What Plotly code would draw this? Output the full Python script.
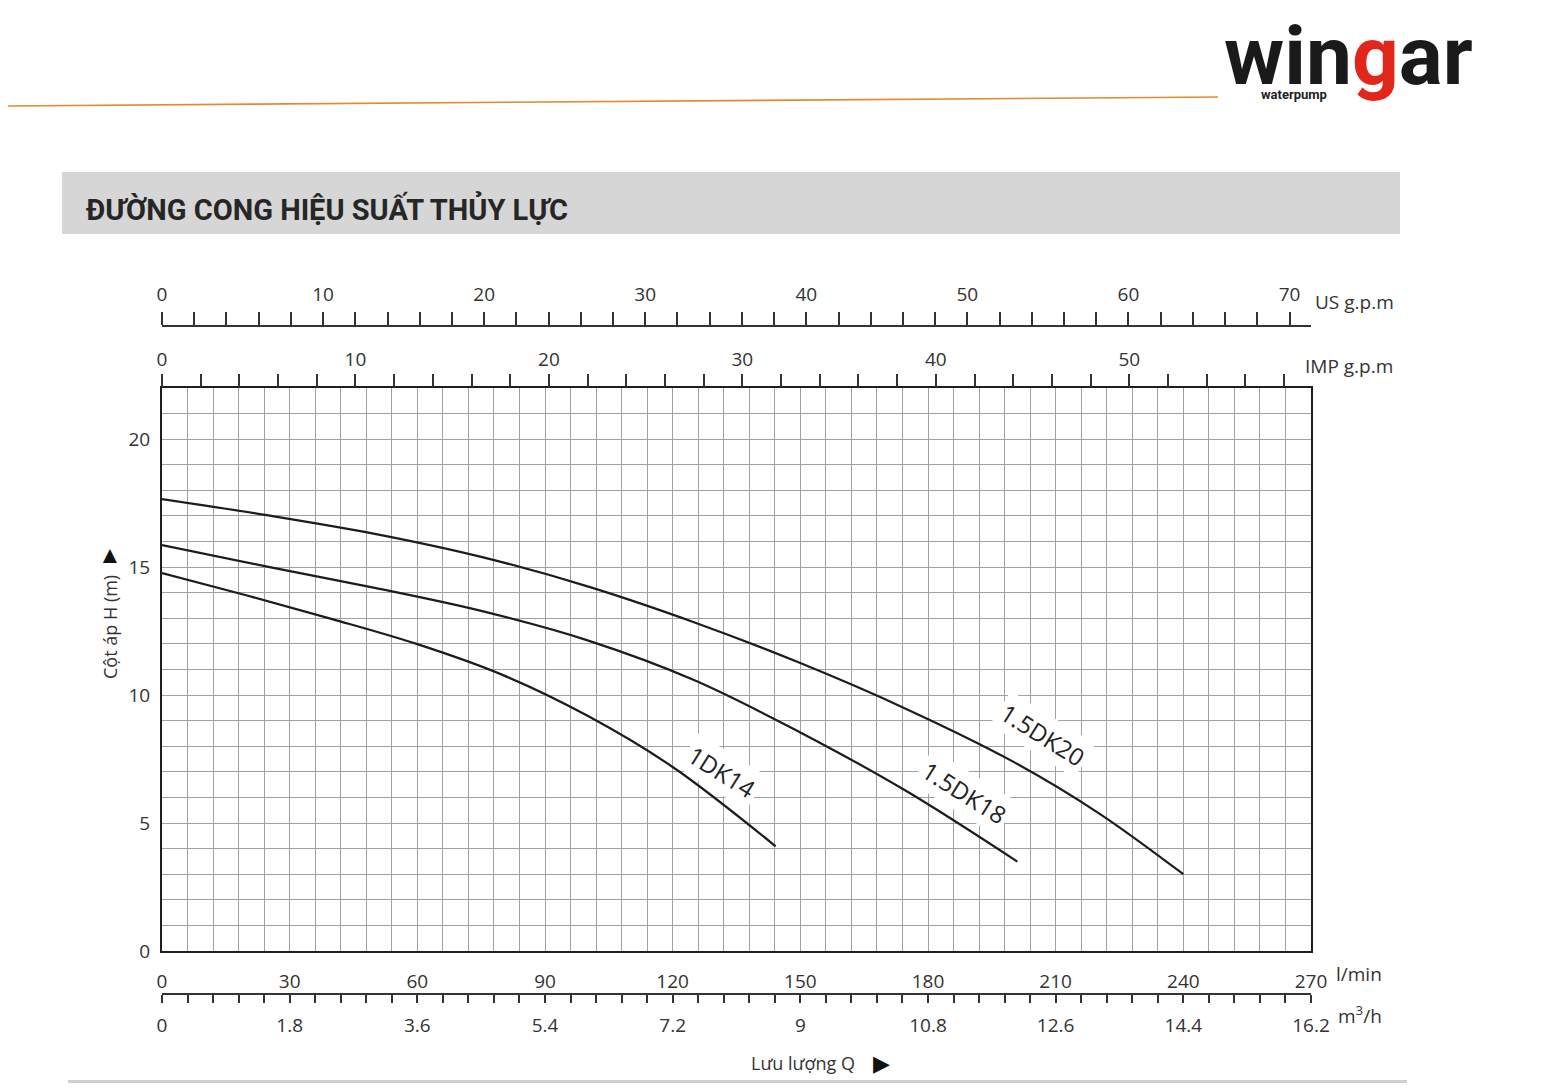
import plotly.graph_objects as go

# ---------------- data ----------------
q_1dk14 = [0, 20, 40, 60, 80, 100, 120, 144.2]
h_1dk14 = [14.77, 13.89, 12.97, 11.99, 10.79, 9.19, 7.19, 4.09]

q_15dk18 = [0, 25, 50, 75, 100, 125, 150, 175, 201]
h_15dk18 = [15.86, 15.01, 14.19, 13.29, 12.14, 10.59, 8.54, 6.24, 3.49]

q_15dk20 = [0, 25, 50, 75, 100, 125, 150, 175, 200, 220, 240]
h_15dk20 = [17.66, 17.02, 16.30, 15.40, 14.25, 12.85, 11.25, 9.45, 7.40, 5.40, 3.0]

series_names = ["1DK14", "1.5DK18", "1.5DK20"]
label_q = [131.5, 188.6, 206.9]
label_h = [7.0, 6.2, 8.45]

lmin_ticks = [0, 30, 60, 90, 120, 150, 180, 210, 240, 270]
m3h_labels = ["0", "1.8", "3.6", "5.4", "7.2", "9", "10.8", "12.6", "14.4", "16.2"]
us_ticks = [0, 10, 20, 30, 40, 50, 60, 70]
imp_ticks = [0, 10, 20, 30, 40, 50]
h_ticks = [0, 5, 10, 15, 20]

LMIN_PER_USGPM = 3.785
LMIN_PER_IMPGPM = 4.546

# ---------------- layout geometry ----------------
# page has an 8px body margin; figure is placed at (8, 8)
OFF = 8
W, H = 1544 - 2 * OFF, 1091 - 2 * OFF
ML, MR, MT, MB = 154, 225, 252, 32
PW, PH = W - ML - MR, H - MT - MB


def px(X):  # page pixel -> paper x
    return (X - OFF - ML) / PW


def py(Y):  # page pixel -> paper y
    return (H - MB - (Y - OFF)) / PH


FONT = "Open Sans, Noto Sans, sans-serif"
TXT = "#333333"
GRID = "#a0a0a0"

fig = go.Figure()

for q, h, name in [(q_1dk14, h_1dk14, series_names[0]),
                   (q_15dk18, h_15dk18, series_names[1]),
                   (q_15dk20, h_15dk20, series_names[2])]:
    fig.add_trace(go.Scatter(x=q, y=h, mode="lines", name=name,
                             line=dict(color="#1c1c1c", width=2.2, shape="spline", smoothing=1.0),
                             showlegend=False, hoverinfo="x+y+name"))

# invisible traces so that every extra axis is drawn
for ax in ["x2", "x3", "x4", "x5"]:
    fig.add_trace(go.Scatter(x=[None], y=[None], xaxis=ax, yaxis="y",
                             showlegend=False, hoverinfo="skip"))

main_dom_bottom = py(951)
main_dom_top = py(388)

tickfont = dict(family=FONT, size=19, color=TXT)

fig.update_layout(
    width=W, height=H, autosize=False,
    margin=dict(l=ML, r=MR, t=MT, b=MB),
    paper_bgcolor="white", plot_bgcolor="white",
    xaxis=dict(range=[0, 270], tickmode="linear", tick0=0, dtick=6,
               showticklabels=False, ticks="", showgrid=True, gridcolor=GRID, gridwidth=1,
               showline=True, mirror=True, linecolor="#1e1e1e", linewidth=2,
               zeroline=False, fixedrange=True),
    yaxis=dict(range=[0, 22], domain=[main_dom_bottom, main_dom_top],
               tickmode="array", tickvals=h_ticks, ticktext=[str(v) for v in h_ticks],
               ticks="", tickfont=tickfont, ticklabelstandoff=6,
               showgrid=True, gridcolor=GRID, gridwidth=1,
               minor=dict(tickmode="linear", tick0=0, dtick=1, showgrid=True,
                          gridcolor=GRID, gridwidth=1, ticks=""),
               showline=True, mirror=True, linecolor="#1e1e1e", linewidth=2,
               zeroline=False, fixedrange=True),
    # IMP g.p.m along the top border
    xaxis2=dict(overlaying="x", anchor="y", side="top",
                range=[0, 270 / LMIN_PER_IMPGPM],
                tickmode="array", tickvals=imp_ticks, ticktext=[str(v) for v in imp_ticks],
                ticks="outside", ticklen=13, tickwidth=1.5, tickcolor="#333",
                minor=dict(tickmode="linear", tick0=0, dtick=2, ticks="outside",
                           ticklen=13, tickwidth=1.5, tickcolor="#333", showgrid=False),
                tickfont=tickfont, ticklabelstandoff=0,
                showgrid=False, showline=False, zeroline=False, fixedrange=True),
    # US g.p.m axis above
    xaxis3=dict(overlaying="x", anchor="free", position=py(326), side="top",
                range=[0, 270 / LMIN_PER_USGPM],
                tickmode="array", tickvals=us_ticks, ticktext=[str(v) for v in us_ticks],
                ticks="outside", ticklen=13, tickwidth=1.5, tickcolor="#333",
                minor=dict(tickmode="linear", tick0=0, dtick=2, ticks="outside",
                           ticklen=13, tickwidth=1.5, tickcolor="#333", showgrid=False),
                tickfont=tickfont, ticklabelstandoff=4,
                showgrid=False, showline=True, linecolor="#333", linewidth=1.5,
                zeroline=False, fixedrange=True),
    # bottom axis: m3/h labels below
    xaxis4=dict(overlaying="x", anchor="free", position=py(994), side="bottom",
                range=[0, 270],
                tickmode="array", tickvals=lmin_ticks, ticktext=m3h_labels,
                ticks="outside", ticklen=8, tickwidth=1.5, tickcolor="#333",
                minor=dict(tickmode="linear", tick0=0, dtick=6, ticks="outside",
                           ticklen=8, tickwidth=1.5, tickcolor="#333", showgrid=False),
                tickfont=tickfont, ticklabelstandoff=6,
                showgrid=False, showline=True, linecolor="#333", linewidth=1.5,
                zeroline=False, fixedrange=True),
    # bottom axis: l/min labels above the same line
    xaxis5=dict(overlaying="x", anchor="free", position=py(994), side="top",
                range=[0, 270],
                tickmode="array", tickvals=lmin_ticks, ticktext=[str(v) for v in lmin_ticks],
                ticks="", tickfont=tickfont, ticklabelstandoff=2,
                showgrid=False, showline=False, zeroline=False, fixedrange=True),
)

annotations = []

# curve labels
for name, q, h in zip(series_names, label_q, label_h):
    annotations.append(dict(x=q, y=h, xref="x", yref="y", text=name, showarrow=False,
                            textangle=32, bgcolor="white", borderpad=3,
                            font=dict(family=FONT, size=24, color="#222")))


def txt(X, Y, text, size=19, xanchor="left", color=TXT, **kw):
    d = dict(x=px(X), y=py(Y), xref="paper", yref="paper", text=text, showarrow=False,
             xanchor=xanchor, yanchor="middle", font=dict(family=FONT, size=size, color=color))
    d.update(kw)
    return d


annotations += [
    txt(1313, 302, "US g.p.m"),
    txt(1303, 366, "IMP g.p.m"),
    txt(1334, 974, "l/min"),
    txt(1336, 1015, "m<sup>3</sup>/h"),
    txt(803, 1063, "Lưu lượng Q", size=18, xanchor="center"),
    txt(881, 1062, "▶", size=22, xanchor="center", color="#111"),
    txt(110, 627, "Cột áp H (m)", size=18, xanchor="center", textangle=-90),
    txt(110, 553, "▲", size=24, xanchor="center", color="#111"),
    # section title
    dict(x=px(84), y=py(209), xref="paper", yref="paper", showarrow=False,
         xanchor="left", yanchor="middle", text="<b>ĐƯỜNG CONG HIỆU SUẤT THỦY LỰC</b>",
         font=dict(family="Roboto, Open Sans, sans-serif", size=29, color="#262626")),
    # logo
    dict(x=px(1348), y=py(56), xref="paper", yref="paper", showarrow=False,
         xanchor="center", yanchor="middle",
         text="<b>win<span style='color:#e2261c'>g</span>ar</b>",
         font=dict(family="Roboto, sans-serif", size=82, color="#1a1a1a")),
    dict(x=px(1294), y=py(94), xref="paper", yref="paper", showarrow=False,
         xanchor="center", yanchor="middle", text="<b>waterpump</b>",
         font=dict(family="Roboto, sans-serif", size=13, color="#222")),
]
fig.update_layout(annotations=annotations)

shapes = [
    # orange rule
    dict(type="line", xref="paper", yref="paper", x0=px(0), y0=py(106), x1=px(1218), y1=py(97),
         line=dict(color="#e3892f", width=1.6), layer="below"),
    # title banner
    dict(type="rect", xref="paper", yref="paper", x0=px(62), y0=py(234), x1=px(1400), y1=py(172),
         fillcolor="#d6d6d6", line=dict(width=0), layer="below"),
    # bottom band
    dict(type="rect", xref="paper", yref="paper", x0=px(68), y0=py(1091), x1=px(1407), y1=py(1080),
         fillcolor="#cfcfcf", line=dict(width=0), layer="below"),
]
fig.update_layout(shapes=shapes)

fig.write_html("out.html")
